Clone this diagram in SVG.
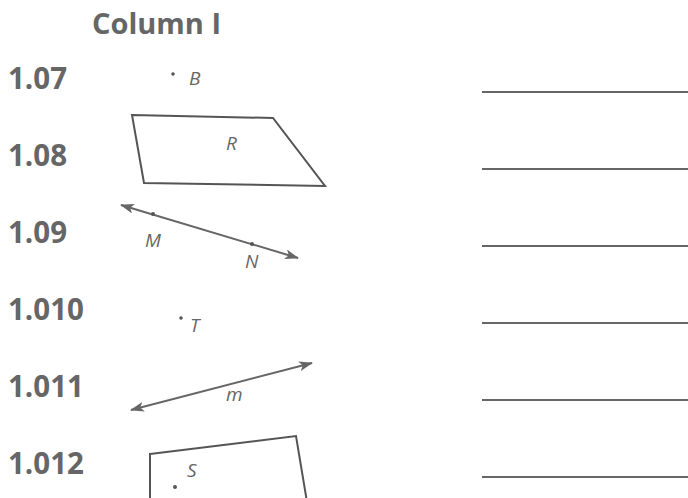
<svg xmlns="http://www.w3.org/2000/svg" width="688" height="498" viewBox="0 0 688 498">
<style>
.lbl{font-family:"Open Sans","Noto Sans",sans-serif;font-weight:bold;font-size:29.5px;fill:#666}
.hdr{font-family:"Open Sans","Noto Sans",sans-serif;font-weight:bold;font-size:29px;fill:#666}
.it{font-family:"Open Sans","Noto Sans",sans-serif;font-style:italic;font-size:19px;fill:#666}
.shape{fill:none;stroke:#555;stroke-width:2}
.ln{stroke:#666;stroke-width:2;fill:none}
.blank{stroke:#666;stroke-width:2}
.dot{fill:#555}
</style>
<defs>
<marker id="ah" viewBox="0 0 14 10" refX="13" refY="5" markerWidth="14" markerHeight="10" markerUnits="userSpaceOnUse" orient="auto-start-reverse">
<path d="M0,0 L14,5 L0,10 L3.5,5 Z" fill="#666"/>
</marker>
</defs>
<text class="hdr" x="92" y="34">Column I</text>
<g id="labels">
<text class="lbl" x="8" y="89">1.07</text>
<text class="lbl" x="8" y="166">1.08</text>
<text class="lbl" x="8" y="243">1.09</text>
<text class="lbl" x="8" y="320">1.010</text>
<text class="lbl" x="8" y="397">1.011</text>
<text class="lbl" x="8" y="474">1.012</text>
</g>
<g id="blanks">
<line class="blank" x1="482" y1="92" x2="688" y2="92"/>
<line class="blank" x1="482" y1="169" x2="688" y2="169"/>
<line class="blank" x1="482" y1="246" x2="688" y2="246"/>
<line class="blank" x1="482" y1="323" x2="688" y2="323"/>
<line class="blank" x1="482" y1="400" x2="688" y2="400"/>
<line class="blank" x1="482" y1="477" x2="688" y2="477"/>
</g>
<g id="pointB">
<circle class="dot" cx="173" cy="74" r="1.8"/>
<text class="it" x="189" y="85">B</text>
</g>
<g id="planeR">
<polygon class="shape" points="132,115 273,118 325,186 144,183"/>
<text class="it" x="226" y="150">R</text>
</g>
<g id="lineMN">
<line class="ln" x1="121" y1="205" x2="298" y2="258" marker-start="url(#ah)" marker-end="url(#ah)"/>
<circle class="dot" cx="153" cy="214" r="2"/>
<circle class="dot" cx="252" cy="244" r="2"/>
<text class="it" x="145" y="247">M</text>
<text class="it" x="245" y="268">N</text>
</g>
<g id="pointT">
<circle class="dot" cx="181" cy="318" r="1.8"/>
<text class="it" x="190" y="332">T</text>
</g>
<g id="linem">
<line class="ln" x1="131" y1="410" x2="312" y2="363" marker-start="url(#ah)" marker-end="url(#ah)"/>
<text class="it" x="226" y="401">m</text>
</g>
<g id="planeS">
<polygon class="shape" points="150,454 296,436 307,502 150,502"/>
<circle class="dot" cx="175" cy="487" r="2"/>
<text class="it" x="187" y="477">S</text>
</g>
</svg>
